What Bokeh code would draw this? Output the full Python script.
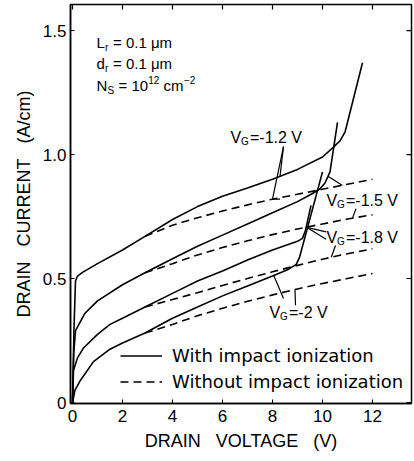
import numpy as np
from bokeh.plotting import figure
from bokeh.models import Range1d, FixedTicker, Legend, LegendItem
from bokeh.core.properties import value
from bokeh.embed import file_html
from bokeh.resources import INLINE

# ---------------- data ----------------
x_ticks = [0, 2, 4, 6, 8, 10, 12]
y_ticks = [0, 0.5, 1.0, 1.5]
y_tick_labels = {0: "0", 0.5: "0.5", 1.0: "1.0", 1.5: "1.5"}

# With impact ionization (solid)
v_s12 = [0, 0.06, 0.12, 0.2, 0.4, 1, 2, 2.9, 4, 5, 6, 7, 8, 9, 10, 10.44, 10.7, 10.9, 11.6]
i_s12 = [0, 0.30, 0.49, 0.51, 0.525, 0.56, 0.615, 0.67, 0.738, 0.79, 0.832, 0.865, 0.90, 0.94, 0.99, 1.03, 1.055, 1.09, 1.37]

v_s15 = [0, 0.05, 0.12, 0.5, 1, 2, 2.9, 4, 5, 6, 7, 8, 9, 9.6, 9.9, 10.1, 10.3, 10.6]
i_s15 = [0, 0.20, 0.29, 0.36, 0.41, 0.475, 0.523, 0.58, 0.63, 0.675, 0.72, 0.765, 0.81, 0.843, 0.862, 0.885, 0.93, 1.13]

v_s18 = [0, 0.04, 0.2, 0.44, 1, 1.5, 2, 2.9, 4, 5, 6, 7, 8, 9, 9.2, 9.32, 9.54]
i_s18 = [0, 0.13, 0.18, 0.22, 0.275, 0.315, 0.34, 0.385, 0.44, 0.49, 0.53, 0.575, 0.615, 0.65, 0.662, 0.695, 0.795]

v_s20 = [0, 0.1, 0.32, 0.84, 1.5, 2, 2.9, 4, 5, 6, 7, 8, 8.6, 8.95, 9.08, 10.0]
i_s20 = [0, 0.05, 0.09, 0.165, 0.215, 0.24, 0.28, 0.34, 0.385, 0.43, 0.47, 0.51, 0.535, 0.557, 0.585, 0.93]

# Without impact ionization (dashed)
v_d = [2.9, 4, 5, 6, 7, 8, 9, 10, 11, 12]
i_d12 = [0.67, 0.715, 0.745, 0.772, 0.797, 0.82, 0.84, 0.86, 0.88, 0.90]
i_d15 = [0.523, 0.56, 0.595, 0.625, 0.652, 0.677, 0.70, 0.72, 0.74, 0.757]
i_d18 = [0.385, 0.415, 0.443, 0.472, 0.50, 0.527, 0.553, 0.578, 0.60, 0.62]
i_d20 = [0.28, 0.315, 0.35, 0.38, 0.408, 0.434, 0.458, 0.48, 0.50, 0.52]

X0, X1 = -0.08, 13.56
Y0, Y1 = -0.004, 1.605

p = figure(width=414, height=461, output_backend="svg", toolbar_location=None,
           x_range=Range1d(X0, X1), y_range=Range1d(Y0, Y1),
           min_border_left=70, min_border_right=3, min_border_top=4, min_border_bottom=58)
p.background_fill_color = "white"
p.border_fill_color = "white"
p.grid.visible = False
p.outline_line_color = "black"
p.outline_line_width = 1.5

for ax in (p.xaxis, p.yaxis):
    ax.axis_line_width = 1.5
    ax.major_tick_in = 4
    ax.major_tick_out = 0
    ax.minor_tick_line_color = None
    ax.major_label_text_font = "Liberation Sans"
    ax.major_label_text_font_size = "17px"
    ax.major_label_text_color = "black"
    ax.axis_label_text_font = "Liberation Sans"
    ax.axis_label_text_font_size = "18px"
    ax.axis_label_text_font_style = "normal"
    ax.axis_label_text_color = "black"

GAP = "\u00a0\u00a0 "
p.xaxis.ticker = FixedTicker(ticks=x_ticks)
p.yaxis.ticker = FixedTicker(ticks=y_ticks)
p.yaxis.major_label_overrides = y_tick_labels
p.xaxis.major_label_standoff = 6
p.yaxis.major_label_standoff = 4
p.xaxis.axis_label = "DRAIN" + GAP + "VOLTAGE" + GAP + "(V)"
p.yaxis.axis_label = "DRAIN" + GAP + "CURRENT" + GAP + "(A/cm)"
p.xaxis.axis_label_standoff = 6
p.yaxis.axis_label_standoff = 6

# inward ticks on top and right frame edges (from tick lists)
tk_y = 5 * (Y1 - Y0) / 399
tk_x = 5 * (X1 - X0) / 341
p.segment(x0=x_ticks, y0=[Y1] * len(x_ticks), x1=x_ticks, y1=[Y1 - tk_y] * len(x_ticks),
          line_color="black", line_width=1.2)
p.segment(x0=[X1] * len(y_ticks), y0=y_ticks, x1=[X1 - tk_x] * len(y_ticks), y1=y_ticks,
          line_color="black", line_width=1.2)

LW = 1.6
DASH = "8 5"
solid_r = None
dash_r = None
for v, i in [(v_s12, i_s12), (v_s15, i_s15), (v_s18, i_s18), (v_s20, i_s20)]:
    r = p.line(v, i, line_color="black", line_width=LW)
    solid_r = solid_r or r
for i in [i_d12, i_d15, i_d18, i_d20]:
    r = p.line(v_d, i, line_color="black", line_width=LW, line_dash=DASH)
    dash_r = dash_r or r

legend = Legend(items=[LegendItem(label="With impact ionization", renderers=[solid_r]),
                       LegendItem(label="Without impact ionization", renderers=[dash_r])],
                location=(50, 11), orientation="vertical")
legend.padding = 0
legend.margin = 0
legend.spacing = 5
legend.glyph_width = 42
legend.glyph_height = 21
legend.label_height = 21
legend.label_standoff = 10
legend.label_text_font = "DejaVu Sans"
legend.label_text_font_size = "18px"
legend.label_text_color = "black"
legend.border_line_color = None
legend.background_fill_alpha = 0
p.add_layout(legend)


def put(x, y, txt, size="15px", dx=0, dy=0, font="Liberation Sans"):
    p.text(x=[x], y=[y], text=[txt], x_offset=dx, y_offset=dy,
           text_font=value(font), text_font_size=size, text_color="black",
           text_baseline="middle", text_align="left")


# parameter block
put(0.96, 1.452, "L")
put(0.96, 1.452, "r", "10px", 8.6, 5)
put(0.96, 1.452, "= 0.1 μm", "15px", 16.5)
put(0.96, 1.367, "d")
put(0.96, 1.367, "r", "10px", 8.6, 5)
put(0.96, 1.367, "= 0.1 μm", "15px", 16.5)
put(0.96, 1.278, "N")
put(0.96, 1.278, "S", "10px", 11, 5)
put(0.96, 1.278, "= 10", "15px", 22)
put(0.96, 1.278, "12", "10px", 51.8, -6)
put(0.96, 1.278, "cm", "15px", 67)
put(0.96, 1.278, "−2", "10px", 87.5, -6)


def vg(x, y, txt):
    put(x, y, "V", "16px")
    put(x, y, "G", "10px", 10.5, 4)
    put(x, y, txt, "16px", 19.5)


vg(6.32, 1.069, "=-1.2 V")
vg(10.16, 0.815, "=-1.5 V")
vg(10.16, 0.665, "=-1.8 V")
vg(7.88, 0.363, "=-2 V")


def seg(xa, ya, xb, yb):
    p.segment(x0=[xa], y0=[ya], x1=[xb], y1=[yb], line_color="black", line_width=1.2)


# leader lines
seg(8.44, 1.032, 8.3, float(np.interp(8.3, v_s12, i_s12)))
seg(8.44, 1.032, 8.0, float(np.interp(8.0, v_d, i_d12)))
seg(8.0, float(np.interp(8.0, v_d, i_d12)), 8.3, float(np.interp(8.0, v_d, i_d12)))

seg(10.22, float(np.interp(10.22, v_s15, i_s15)), 10.8, 0.875)
seg(11.2, float(np.interp(11.2, v_d, i_d15)), 11.34, 0.782)

seg(9.38, 0.706, 10.14, 0.688)
seg(9.38, 0.706, 10.14, 0.658)
seg(10.35, float(np.interp(10.35, v_d, i_d18)), 10.52, 0.633)

seg(8.05, float(np.interp(8.05, v_s20, i_s20)), 8.44, 0.419)
seg(8.9, float(np.interp(8.9, v_d, i_d20)), 8.92, 0.392)

open("out.html", "w").write(file_html(p, INLINE))
